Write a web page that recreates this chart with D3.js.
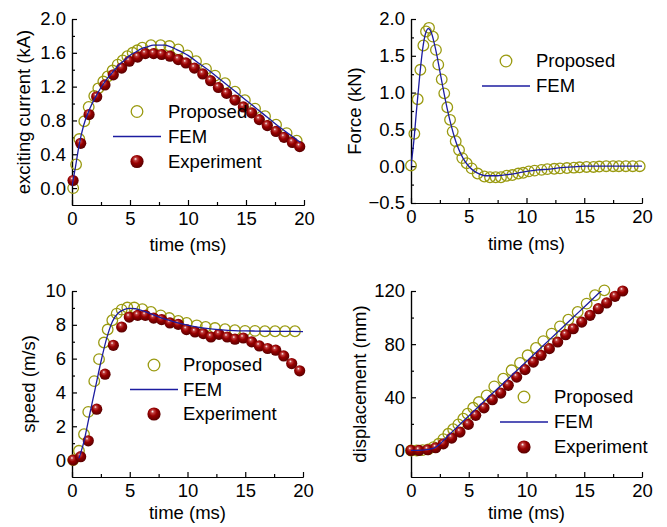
<!DOCTYPE html>
<html>
<head>
<meta charset="utf-8">
<style>
  body { margin: 0; background: #fff; }
  text { font-family: "Liberation Sans", Arial, sans-serif; fill: #000; }
</style>
</head>
<body>
<svg width="667" height="527"></svg>
<script src="https://d3js.org/d3.v7.min.js"></script>
<script>
// exciting current (kA)
var curPropT = [0.1,0.35,0.63,1.06,1.44,1.92,2.27,2.7,3.07,3.5,3.94,4.37,4.77,5.23,5.63,6.06,6.81,7.64,8.39,9.16,9.94,10.69,11.55,12.33,13.19,14.05,14.9,15.78,16.64,17.59,18.5,19.37];
var curPropV = [0.0,0.28,0.58,0.79,0.96,1.09,1.18,1.26,1.32,1.39,1.46,1.51,1.56,1.60,1.63,1.66,1.69,1.69,1.68,1.64,1.57,1.50,1.41,1.33,1.24,1.14,1.04,0.94,0.85,0.75,0.65,0.56];
var curExpT = [0.09,0.75,1.47,2.13,2.84,3.56,4.28,4.94,5.66,6.32,7.04,7.73,8.45,9.16,9.82,10.55,11.27,11.95,12.62,13.33,14.05,14.77,15.49,16.15,16.84,17.59,18.28,19.0,19.63];
var curExpV = [0.09,0.53,0.87,1.08,1.22,1.34,1.42,1.50,1.55,1.59,1.59,1.58,1.56,1.52,1.48,1.42,1.35,1.27,1.19,1.12,1.04,0.96,0.89,0.81,0.74,0.67,0.60,0.54,0.49];
var curFemT = [0,0.3,0.6,1,1.5,2,2.5,3,3.5,4,4.5,5,5.5,6,6.5,7,7.5,8,8.5,9,10,11,12,13,14,15,16,17,18,19,19.7];
var curFemV = [0.02,0.25,0.5,0.74,0.93,1.07,1.19,1.29,1.37,1.45,1.51,1.57,1.61,1.65,1.67,1.69,1.69,1.69,1.67,1.64,1.57,1.47,1.37,1.26,1.15,1.04,0.93,0.82,0.71,0.61,0.54];

// force (kN)
var forPropT = [0,0.29,0.58,0.81,1.07,1.3,1.56,1.9,2.16,2.36,2.66,2.88,3.14,3.38,3.61,3.87,4.16,4.44,4.82,5.25,5.77,6.35,6.84,7.33,7.79,8.28,8.77,9.29,9.72,10.2,10.7,11.3,11.8,12.4,12.9,13.5,14.1,14.6,15.2,15.8,16.3,16.9,17.5,18.0,18.6,19.2,19.8];
var forPropV = [0.01,0.44,0.91,1.31,1.64,1.83,1.88,1.76,1.58,1.38,1.18,0.99,0.80,0.63,0.47,0.34,0.22,0.11,0.04,-0.03,-0.10,-0.14,-0.15,-0.15,-0.15,-0.13,-0.12,-0.10,-0.09,-0.07,-0.06,-0.05,-0.04,-0.035,-0.03,-0.025,-0.02,-0.015,-0.01,-0.01,-0.005,0,0,0,0,0,0];
var forFemT = [0,0.25,0.5,0.75,1,1.25,1.5,1.75,2,2.25,2.5,2.75,3,3.25,3.5,3.75,4,4.5,5,5.5,6,6.5,7,7.5,8,9,10,11,12,13,14,15,20];
var forFemV = [0,0.35,0.8,1.22,1.58,1.8,1.87,1.82,1.68,1.5,1.29,1.08,0.88,0.7,0.54,0.4,0.28,0.11,0.0,-0.07,-0.11,-0.13,-0.13,-0.13,-0.12,-0.1,-0.07,-0.05,-0.04,-0.02,-0.01,0,0];

// speed (m/s)
var spdPropT = [0.1,0.6,1.04,1.41,1.93,2.34,2.77,3.09,3.49,3.87,4.3,4.79,5.39,6.09,6.84,7.68,8.42,9.2,9.93,10.8,11.57,12.38,13.25,14.1,14.98,15.84,16.7,17.58,18.44,19.3];
var spdPropV = [0,0.55,1.53,2.85,4.67,5.97,6.95,7.72,8.27,8.66,8.9,9.02,9.02,8.92,8.76,8.56,8.4,8.23,8.11,7.97,7.87,7.81,7.74,7.68,7.64,7.64,7.62,7.62,7.62,7.62];
var spdExpT = [0.1,0.75,1.41,2.14,2.86,3.58,4.3,4.96,5.69,6.35,7.07,7.76,8.48,9.2,9.91,10.65,11.37,12.03,12.73,13.44,14.11,14.83,15.56,16.22,16.94,17.64,18.33,19.02,19.71];
var spdExpV = [0,0.2,1.14,3.01,5.08,6.79,7.87,8.46,8.56,8.56,8.4,8.31,8.11,8.03,7.72,7.58,7.48,7.28,7.44,7.28,7.15,7.22,6.99,6.75,6.6,6.5,6.16,5.71,5.28];
var spdFemT = [0.6,1,1.5,2,2.5,3,3.5,4,4.5,5,5.5,6,7,8,9,10,11,12,13,14,15,16,17,18,19,20];
var spdFemV = [0.1,1.0,2.6,4.2,5.8,7.2,8.2,8.7,8.9,8.97,8.95,8.85,8.6,8.35,8.15,7.98,7.85,7.76,7.7,7.66,7.64,7.63,7.62,7.61,7.61,7.6];

// displacement (mm)
var disPropT = [0,0.5,1.0,1.5,1.95,2.4,2.8,3.23,3.65,4.1,4.53,4.9,5.39,5.88,6.55,7.21,7.99,8.71,9.44,10.1,10.82,11.46,12.18,12.9,13.62,14.43,15.21,15.93,16.74];
var disPropV = [0,0,0.2,0.8,2.5,5,8.5,12.5,16,19.6,23.9,27.6,32.1,36.4,41.4,48.2,54,60.3,65.8,71.6,77.1,82.3,87.9,93.4,98.4,104.2,110.5,116.8,120.5];
var disExpT = [0,0.69,1.44,2.14,2.8,3.52,4.24,4.96,5.6,6.32,7.04,7.77,8.42,9.15,9.87,10.59,11.26,11.98,12.7,13.39,14.05,14.78,15.5,16.22,16.94,17.66,18.33];
var disExpV = [0,0,0.5,2,5,9.3,13.8,19.6,26.4,32.1,38.2,43.2,49,55.2,60.8,66.5,71.6,76.6,81.6,87.1,91.6,96.6,101.7,106.7,111,116,120];
var disFemT = [0,1,2,2.5,3,4,5,6,7,8,9,10,11,12,13,14,15,16,16.5];
var disFemV = [0,0.3,1.8,4.8,9.2,17.6,25.9,34.2,42.4,50.6,58.8,67,75.2,83.4,91.6,99.8,108,116.2,120.3];

var xTicks = [0, 5, 10, 15, 20];
var xMinor = [2.5, 7.5, 12.5, 17.5];

function zip(t, v) { return t.map(function(d, i) { return {t: d, v: v[i]}; }); }

var svg = d3.select("svg");
var femColor = "#1c1ca0", propColor = "#9a9a10";

// shaded ball for experiment markers
var grad = svg.append("defs").append("radialGradient")
    .attr("id", "ball").attr("cx", "45%").attr("cy", "40%").attr("r", "60%")
    .attr("fx", "38%").attr("fy", "30%");
grad.append("stop").attr("offset", "0").attr("stop-color", "#ffffff");
grad.append("stop").attr("offset", "0.2").attr("stop-color", "#c04040");
grad.append("stop").attr("offset", "0.5").attr("stop-color", "#980000");
grad.append("stop").attr("offset", "1").attr("stop-color", "#560000");

var panels = [
  {id: "p1", x: [72, 304], y: [205, 19], yDom: [-0.2, 2.0], yTicks: [0, 0.4, 0.8, 1.2, 1.6, 2.0],
   yMinor: [0.2, 0.6, 1.0, 1.4, 1.8], fmt: ".1f", ylab: "exciting current (kA)", ylx: 30, xlb: 251,
   prop: zip(curPropT, curPropV), exp: zip(curExpT, curExpV), fem: zip(curFemT, curFemV),
   leg: {cx: 137, y: 111.5, tx: 168, dy: 25}},
  {id: "p2", x: [411, 642], y: [203, 19], yDom: [-0.5, 2.0], yTicks: [-0.5, 0, 0.5, 1.0, 1.5, 2.0],
   yMinor: [-0.25, 0.25, 0.75, 1.25, 1.75], fmt: ".1f", ylab: "Force (kN)", ylx: 361, xlb: 250,
   prop: zip(forPropT, forPropV), exp: null, fem: zip(forFemT, forFemV),
   leg: {cx: 506, y: 61, tx: 536, dy: 25}},
  {id: "p3", x: [72, 303], y: [477, 291], yDom: [-1, 10], yTicks: [0, 2, 4, 6, 8, 10],
   yMinor: [1, 3, 5, 7, 9], fmt: "d", ylab: "speed (m/s)", ylx: 35, xlb: 519,
   prop: zip(spdPropT, spdPropV), exp: zip(spdExpT, spdExpV), fem: zip(spdFemT, spdFemV),
   leg: {cx: 154, y: 365, tx: 183, dy: 24.5}},
  {id: "p4", x: [411, 642], y: [477, 291], yDom: [-20, 120], yTicks: [0, 40, 80, 120],
   yMinor: [20, 60, 100], fmt: "d", ylab: "displacement (mm)", ylx: 366, xlb: 519,
   prop: zip(disPropT, disPropV), exp: zip(disExpT, disExpV), fem: zip(disFemT, disFemV),
   leg: {cx: 524, y: 397, tx: 554, dy: 25}}
];

panels.forEach(function(p) {
  var x = d3.scaleLinear().domain([0, 20]).range(p.x);
  var y = d3.scaleLinear().domain(p.yDom).range(p.y);
  var g = svg.append("g");

  g.append("clipPath").attr("id", "clip-" + p.id).append("rect")
      .attr("x", p.x[0]).attr("y", p.y[1])
      .attr("width", p.x[1] - p.x[0]).attr("height", p.y[0] - p.y[1]);

  // axes, ticks pointing inward
  var xa = g.append("g").attr("transform", "translate(0," + p.y[0] + ")")
      .call(d3.axisBottom(x).tickValues(xTicks).tickSizeInner(-5).tickSizeOuter(0).tickPadding(7));
  g.append("g").attr("transform", "translate(0," + p.y[0] + ")")
      .call(d3.axisBottom(x).tickValues(xMinor).tickSizeInner(-3).tickSizeOuter(0).tickFormat(""));
  g.append("g").attr("transform", "translate(" + p.x[0] + ",0)")
      .call(d3.axisLeft(y).tickValues(p.yTicks).tickFormat(d3.format(p.fmt)).tickSizeInner(-5).tickSizeOuter(0).tickPadding(6));
  g.append("g").attr("transform", "translate(" + p.x[0] + ",0)")
      .call(d3.axisLeft(y).tickValues(p.yMinor).tickSizeInner(-3).tickSizeOuter(0).tickFormat(""));

  g.selectAll(".domain, .tick line").attr("stroke", "#000").attr("stroke-width", 1.2);
  g.selectAll(".tick text").attr("font-size", 18.5).attr("fill", "#000")
      .style("font-family", "'Liberation Sans', Arial, sans-serif");

  g.append("text").attr("x", (p.x[0] + p.x[1]) / 2).attr("y", p.xlb)
      .attr("text-anchor", "middle").attr("font-size", 18.5).text("time (ms)");
  g.append("text")
      .attr("transform", "translate(" + p.ylx + "," + (p.y[0] + p.y[1]) / 2 + ") rotate(-90)")
      .attr("text-anchor", "middle").attr("font-size", 18.5).text(p.ylab);

  // series
  g.selectAll(".prop").data(p.prop).enter().append("circle")
      .attr("cx", function(d) { return x(d.t); })
      .attr("cy", function(d) { return y(d.v); })
      .attr("r", 5.3).attr("fill", "none").attr("stroke", propColor).attr("stroke-width", 1.3);

  if (p.exp) {
    g.selectAll(".exp").data(p.exp).enter().append("circle")
        .attr("cx", function(d) { return x(d.t); })
        .attr("cy", function(d) { return y(d.v); })
        .attr("r", 5.6).attr("fill", "url(#ball)");
  }

  var line = d3.line().x(function(d) { return x(d.t); }).y(function(d) { return y(d.v); })
      .curve(d3.curveMonotoneX);
  g.append("path").datum(p.fem).attr("d", line)
      .attr("clip-path", "url(#clip-" + p.id + ")")
      .attr("fill", "none").attr("stroke", femColor).attr("stroke-width", 1.3);

  // legend
  var L = p.leg;
  var names = p.exp ? ["Proposed", "FEM", "Experiment"] : ["Proposed", "FEM"];
  names.forEach(function(name, i) {
    var ly = L.y + i * L.dy;
    if (name === "Proposed") {
      g.append("circle").attr("cx", L.cx).attr("cy", ly).attr("r", 5.8)
          .attr("fill", "none").attr("stroke", propColor).attr("stroke-width", 1.3);
    } else if (name === "FEM") {
      g.append("line").attr("x1", L.cx - 24).attr("x2", L.cx + 24).attr("y1", ly).attr("y2", ly)
          .attr("stroke", femColor).attr("stroke-width", 1.3);
    } else {
      g.append("circle").attr("cx", L.cx).attr("cy", ly).attr("r", 6.6).attr("fill", "url(#ball)");
    }
    g.append("text").attr("x", L.tx).attr("y", ly).attr("dy", "0.35em")
        .attr("font-size", 18.5).text(name);
  });
});
</script>
</body>
</html>
